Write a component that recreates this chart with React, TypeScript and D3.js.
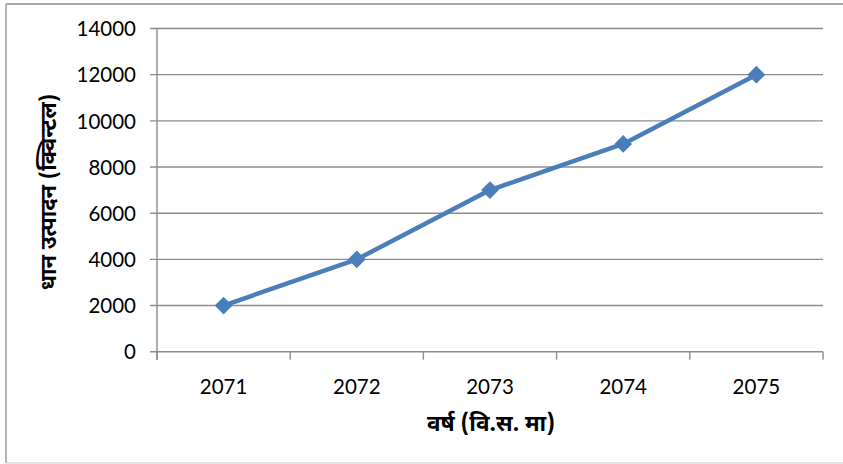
import React from "react";
import * as d3 from "d3";

const years = ["2071", "2072", "2073", "2074", "2075"];
const production = [2000, 4000, 7000, 9000, 12000];
const yTicks = [0, 2000, 4000, 6000, 8000, 10000, 12000, 14000];
const xTitle = "वर्ष (वि.स. मा)";
const yTitle = "धान उत्पादन (क्विन्टल)";

const W = 843;
const H = 464;
const plot = { left: 157, right: 823, top: 28.5, bottom: 351.7 };

export default function App() {
  const x = d3.scaleBand<string>().domain(years).range([plot.left, plot.right]).padding(0);
  const y = d3.scaleLinear().domain([0, 14000]).range([plot.bottom, plot.top]);
  const cx = (d: string) => (x(d) ?? 0) + x.bandwidth() / 2;
  const line = d3
    .line<number>()
    .x((_, i) => cx(years[i]))
    .y((d) => y(d));
  const diamond = d3.symbol().type(d3.symbolDiamond2).size(200);
  const numFont = "Lato, 'Open Sans', sans-serif";
  const devFont = "'Noto Sans Devanagari', 'Lohit Devanagari', 'Noto Sans', sans-serif";
  const gridColor = "#8c8c8c";
  const boundaries = [...years.map((d) => x(d) ?? 0), plot.right];

  return (
    <svg
      width={W}
      height={H}
      style={{ position: "absolute", left: 0, top: 0, background: "#fff" }}
    >
      {/* chart border */}
      <line x1={6} x2={W} y1={4} y2={4} stroke="#8a8a8a" strokeWidth={1.5} />
      <line x1={6} x2={6} y1={4} y2={463} stroke="#9a9a9a" strokeWidth={1.5} />
      <line x1={6} x2={W} y1={463} y2={463} stroke="#d9d9d9" strokeWidth={1.5} />

      {/* gridlines & y ticks */}
      {yTicks.map((t) => (
        <g key={t}>
          <line x1={plot.left - 7} x2={plot.right} y1={y(t)} y2={y(t)} stroke={gridColor} strokeWidth={1.4} />
          <text
            x={plot.left - 21}
            y={y(t)}
            dy="0.38em"
            textAnchor="end"
            fontFamily={numFont}
            fontSize={20.5}
            fill="#000"
          >
            {t}
          </text>
        </g>
      ))}

      {/* y axis line */}
      <line x1={plot.left} x2={plot.left} y1={plot.top} y2={plot.bottom + 8} stroke={gridColor} strokeWidth={1.4} />

      {/* x tick marks */}
      {boundaries.map((b, i) => (
        <line key={i} x1={b} x2={b} y1={plot.bottom} y2={plot.bottom + 8} stroke={gridColor} strokeWidth={1.4} />
      ))}

      {/* x labels */}
      {years.map((d) => (
        <text
          key={d}
          x={cx(d)}
          y={386.5}
          dy="0.38em"
          textAnchor="middle"
          fontFamily={numFont}
          fontSize={20.5}
          fill="#000"
        >
          {d}
        </text>
      ))}

      {/* series */}
      <path d={line(production) ?? ""} fill="none" stroke="#4a7ebb" strokeWidth={4.5} strokeLinejoin="round" />
      {production.map((v, i) => (
        <path key={i} d={diamond() ?? ""} transform={`translate(${cx(years[i])},${y(v)})`} fill="#4a7ebb" />
      ))}

      {/* axis titles */}
      <text
        x={491}
        y={423}
        dy="0.36em"
        textAnchor="middle"
        fontFamily={devFont}
        fontWeight="bold"
        fontSize={22.5}
        fill="#000"
      >
        {xTitle}
      </text>
      <text
        transform={`translate(48,192) rotate(-90)`}
        dy="0.36em"
        textAnchor="middle"
        fontFamily={devFont}
        fontWeight="bold"
        fontSize={22}
        fill="#000"
      >
        {yTitle}
      </text>
    </svg>
  );
}
